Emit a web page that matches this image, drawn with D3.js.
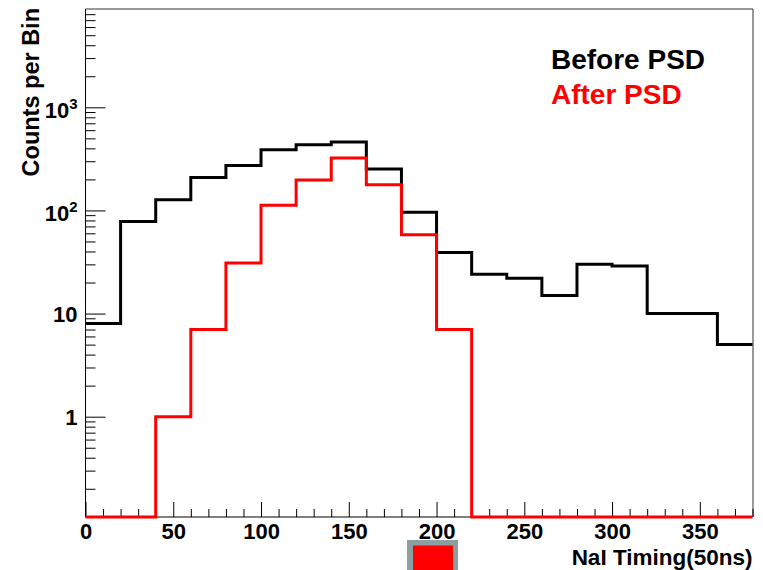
<!DOCTYPE html>
<html>
<head>
<meta charset="utf-8">
<script src="https://cdn.jsdelivr.net/npm/d3@7"></script>
<style>
  html, body { margin: 0; padding: 0; background: #fff; }
  svg { display: block; }
  text { font-family: "Liberation Sans", Arial, Helvetica, sans-serif; font-weight: bold; }
</style>
</head>
<body>
<svg id="chart" width="763" height="570"></svg>
<script>
// ---- data ----
const binEdges = [0, 20, 40, 60, 80, 100, 120, 140, 160, 180, 200, 220, 240, 260, 280, 300, 320, 340, 360, 380];
const beforePSD = [8, 78, 127, 209, 273, 388, 434, 460, 252, 96, 39, 24, 22, 15, 30, 29, 10, 10, 5];
const afterPSD  = [0, 0, 1, 7, 31, 112, 197, 322, 177, 58, 7, 0, 0, 0, 0, 0, 0, 0, 0];
const xTickLabels = [0, 50, 100, 150, 200, 250, 300, 350];
const yDecades = [1, 10, 100, 1000];
const seriesNames = ["Before PSD", "After PSD"];
const xTitle = "NaI Timing(50ns)";
const yTitle = "Counts per Bin";
const xDomain = [0, 380];
const yDomain = [0.1065, 8980];

// ---- layout ----
const svg = d3.select("#chart");
const mLeft = 85.5, mRight = 752.5, mTop = 9, mBottom = 517;

const x = d3.scaleLinear().domain(xDomain).range([mLeft, mRight]);
const y = d3.scaleLog().domain(yDomain).range([mBottom, mTop]);

// frame (top and right)
svg.append("path")
  .attr("d", `M${mLeft},${mTop}H${mRight + 0.5}V${mBottom}`)
  .attr("fill", "none").attr("stroke", "#333").attr("stroke-width", 1);

// ---- histograms ----
function histPoints(vals) {
  const pts = vals.map((v, i) => [binEdges[i], v]);
  pts.push([binEdges[binEdges.length - 1], vals[vals.length - 1]]);
  return pts;
}
const line = d3.line()
  .x(d => x(d[0]))
  .y(d => d[1] > 0 ? y(d[1]) : y.range()[0])
  .curve(d3.curveStepAfter);

svg.append("path").datum(histPoints(beforePSD))
  .attr("d", line).attr("fill", "none").attr("stroke", "#000").attr("stroke-width", 3);

// ---- y axis ----
const yMinor = [];
for (let e = -1; e <= 3; e++) {
  for (let m = 2; m <= 9; m++) {
    const v = m * Math.pow(10, e);
    if (v >= yDomain[0] && v <= yDomain[1]) yMinor.push(v);
  }
}
const gyMinor = svg.append("g").attr("transform", `translate(${mLeft},0)`)
  .call(d3.axisLeft(y).tickValues(yMinor).tickSize(-10).tickSizeOuter(0).tickFormat(""));
gyMinor.select(".domain").remove();

const gy = svg.append("g").attr("transform", `translate(${mLeft},0)`)
  .call(d3.axisLeft(y).tickValues(yDecades).tickSize(-20).tickSizeOuter(0).tickPadding(8).tickFormat(d => ""));
gy.select(".domain").attr("d", `M0,${mBottom}V${mTop}`);
gy.selectAll(".tick text").each(function(d) {
  const t = d3.select(this);
  t.attr("font-size", 22).attr("fill", "#000").attr("dy", null)
   .attr("font-family", '"Liberation Sans", Arial, sans-serif').attr("font-weight", "bold");
  const exp = Math.round(Math.log10(d));
  if (exp <= 1) {
    t.attr("y", 8).text(String(d));
  } else {
    t.attr("y", 10).text("10");
    t.append("tspan").attr("font-size", 15).attr("dy", -9).text(String(exp));
  }
});

// ---- x axis ----
const xMinor = d3.range(0, 381, 10).filter(v => v % 50 !== 0);
const gxMinor = svg.append("g").attr("transform", `translate(0,${mBottom})`)
  .call(d3.axisBottom(x).tickValues(xMinor).tickSize(-8).tickSizeOuter(0).tickFormat(""));
gxMinor.select(".domain").remove();
const gx = svg.append("g").attr("transform", `translate(0,${mBottom})`)
  .call(d3.axisBottom(x).tickValues(xTickLabels).tickSize(-15).tickSizeOuter(0).tickPadding(6.5).tickFormat(d3.format("d")));
gx.select(".domain").attr("d", `M${mLeft},0H${mRight}`);
gx.selectAll(".tick text").attr("font-size", 22).attr("fill", "#000")
  .attr("font-family", '"Liberation Sans", Arial, sans-serif').attr("font-weight", "bold");

svg.selectAll(".tick line").attr("stroke", "#000");
svg.selectAll(".domain").attr("stroke", "#000");

// red histogram drawn over the black one and the bottom axis line
svg.append("path").datum(histPoints(afterPSD))
  .attr("d", line).attr("fill", "none").attr("stroke", "#ff0000").attr("stroke-width", 3);

// ---- titles ----
svg.append("text").attr("transform", `translate(38.5,${mTop - 1}) rotate(-90)`)
  .attr("text-anchor", "end").attr("font-size", 23.5).attr("fill", "#000").text(yTitle);
svg.append("text").attr("x", mRight).attr("y", 564.5)
  .attr("text-anchor", "end").attr("font-size", 22.5).attr("fill", "#000").text(xTitle);

// ---- legend ----
const legendColors = ["#000", "#ff0000"];
svg.selectAll(".legend").data(seriesNames).enter().append("text")
  .attr("class", "legend")
  .attr("x", 551).attr("y", (d, i) => 68.5 + i * 35.5)
  .attr("font-size", 28).attr("fill", (d, i) => legendColors[i]).text(d => d);

// ---- small marker box at bottom ----
svg.append("rect").attr("x", 407).attr("y", 540).attr("width", 51).attr("height", 35).attr("fill", "#8a9fa0");
svg.append("rect").attr("x", 413).attr("y", 545.5).attr("width", 40).attr("height", 30).attr("fill", "#ff0000");
</script>
</body>
</html>
